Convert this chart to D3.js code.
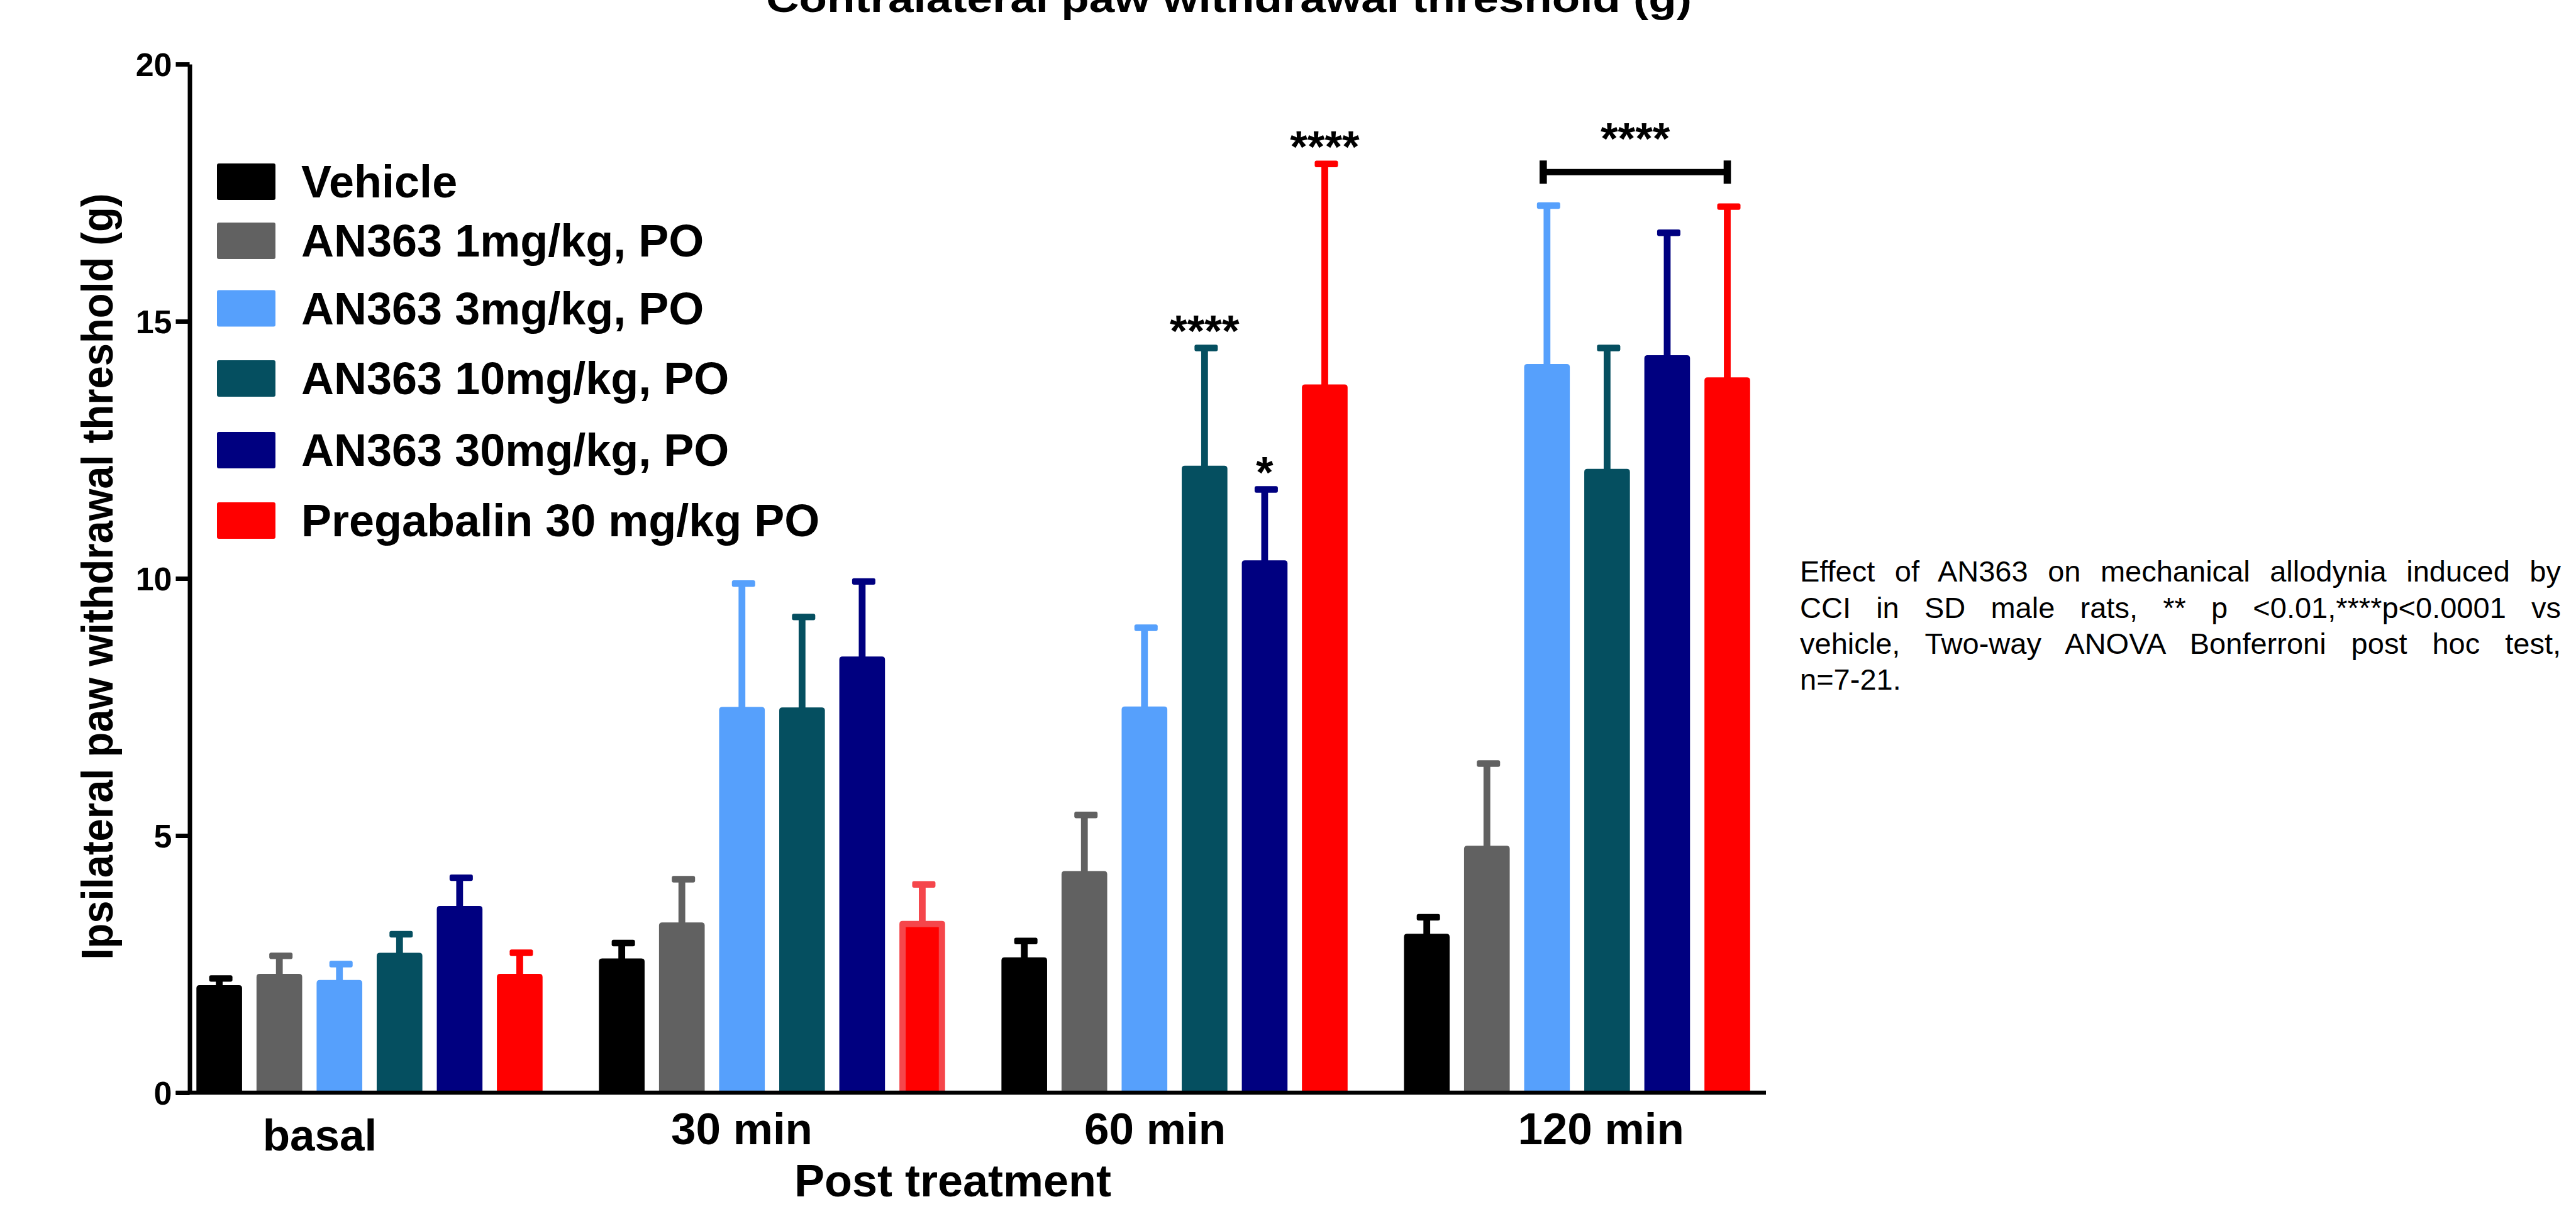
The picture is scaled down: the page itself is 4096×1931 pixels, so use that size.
<!DOCTYPE html>
<html>
<head>
<meta charset="utf-8">
<script src="https://cdn.jsdelivr.net/npm/d3@7"></script>
<style>
  body { margin: 0; background: #fff; }
  svg { display: block; }
  text { font-family: 'Liberation Sans', Arial, sans-serif; fill: #000; }
</style>
</head>
<body>
<script>
// data
const groups = ['basal', '30 min', '60 min', '120 min'];
const series = ['Vehicle', 'AN363 1mg/kg, PO', 'AN363 3mg/kg, PO', 'AN363 10mg/kg, PO', 'AN363 30mg/kg, PO', 'Pregabalin 30 mg/kg PO'];
const colors = ['#000000', '#616161', '#56a0fc', '#054f60', '#000080', '#ff0000'];

// mean per series, one value per group
const vehicleMean = [2.09, 2.61, 2.63, 3.09];
const an1Mean = [2.31, 3.31, 4.31, 4.80];
const an3Mean = [2.19, 7.50, 7.51, 14.17];
const an10Mean = [2.72, 7.49, 12.19, 12.13];
const an30Mean = [3.63, 8.48, 10.35, 14.34];
const pregMean = [2.31, 3.34, 13.77, 13.91];

// SEM (upper error bar)
const vehicleSem = [0.13, 0.30, 0.32, 0.32];
const an1Sem = [0.35, 0.84, 1.09, 1.60];
const an3Sem = [0.31, 2.40, 1.53, 3.08];
const an10Sem = [0.36, 1.76, 2.29, 2.35];
const an30Sem = [0.55, 1.46, 1.38, 2.38];
const pregSem = [0.41, 0.71, 4.29, 3.32];

const yTicks = [0, 5, 10, 15, 20];

// significance marks over single bars, and the bracket at 120 min
const sigMarks = [
  { group: '60 min', series: 3, label: '****' },
  { group: '60 min', series: 4, label: '*' },
  { group: '60 min', series: 5, label: '****' }
];
const sigBracket = { group: '120 min', from: 2, to: 5, value: 17.9, label: '****' };

const noteLines = [
  'Effect of AN363 on mechanical allodynia induced by',
  'CCI in SD male rats, ** p <0.01,****p<0.0001 vs',
  'vehicle, Two-way ANOVA Bonferroni post hoc test,',
  'n=7-21.'
];

const means = [vehicleMean, an1Mean, an3Mean, an10Mean, an30Mean, pregMean];
const sems = [vehicleSem, an1Sem, an3Sem, an10Sem, an30Sem, pregSem];

// layout
const width = 4096;
const height = 1931;
const axisX = 301.5;
const barLeft = 312.3;
const barRight = 2782.8;
const axisRight = 2808;
const tickLen = 22;
// x labels are not centred on their groups in the original
const labelShift = [-79, -48, -31, 38];
const labelBase = [92, 82, 82, 82];
const legendTop = [260, 354, 461.5, 573, 687, 799];

const svg = d3.select('body').append('svg').attr('width', width).attr('height', height);
svg.append('rect').attr('width', width).attr('height', height).attr('fill', '#fff');

const x0 = d3.scaleBand().domain(groups).range([barLeft, barRight]).paddingInner(0.14).paddingOuter(0);
const x1 = d3.scaleBand().domain(d3.range(series.length)).range([0, x0.bandwidth()]).paddingInner(0.24).paddingOuter(0);
const y = d3.scaleLinear().domain([0, 20]).range([1738, 102]);

const rows = [];
groups.forEach(function(g, gi) {
  series.forEach(function(s, si) {
    rows.push({ group: g, si: si, mean: means[si][gi], sem: sems[si][gi] });
  });
});

function cx(g, si) { return x0(g) + x1(si) + x1.bandwidth() / 2; }

function topRounded(x, yTop, w, h, r) {
  return 'M' + x + ',' + (yTop + h) + 'V' + (yTop + r) +
    'Q' + x + ',' + yTop + ' ' + (x + r) + ',' + yTop +
    'H' + (x + w - r) + 'Q' + (x + w) + ',' + yTop + ' ' + (x + w) + ',' + (yTop + r) +
    'V' + (yTop + h) + 'Z';
}

// the pregabalin bar at 30 min has a lighter outline in the original
function isOutlined(d) { return d.si === 5 && d.group === '30 min'; }
const outlineColor = '#f5464b';

// error bars (drawn first so bars cover the stem base)
const err = svg.append('g');
err.selectAll('rect.stem').data(rows).enter().append('rect')
  .attr('class', 'stem')
  .attr('x', function(d) { return cx(d.group, d.si) - 5.4; })
  .attr('y', function(d) { return y(d.mean + d.sem); })
  .attr('width', 10.8)
  .attr('height', function(d) { return y(d.mean) - y(d.mean + d.sem) + 2; })
  .attr('fill', function(d) { return isOutlined(d) ? outlineColor : colors[d.si]; });
err.selectAll('rect.cap').data(rows).enter().append('rect')
  .attr('class', 'cap')
  .attr('x', function(d) { return cx(d.group, d.si) - 16; })
  .attr('y', function(d) { return y(d.mean + d.sem) - 5.2; })
  .attr('width', 37)
  .attr('height', 10.4)
  .attr('rx', 3)
  .attr('fill', function(d) { return isOutlined(d) ? outlineColor : colors[d.si]; });

// bars
const bars = svg.append('g');
bars.selectAll('path').data(rows).enter().append('path')
  .attr('d', function(d) {
    const bx = x0(d.group) + x1(d.si);
    return topRounded(bx, y(d.mean), x1.bandwidth(), y(0) - y(d.mean), 5);
  })
  .attr('fill', function(d) { return isOutlined(d) ? outlineColor : colors[d.si]; });
bars.selectAll('rect.inner').data(rows.filter(isOutlined)).enter().append('rect')
  .attr('class', 'inner')
  .attr('x', function(d) { return x0(d.group) + x1(d.si) + 10; })
  .attr('y', function(d) { return y(d.mean) + 10; })
  .attr('width', x1.bandwidth() - 20)
  .attr('height', function(d) { return y(0) - y(d.mean) - 10; })
  .attr('fill', colors[5]);

// y axis
const yAxis = svg.append('g')
  .attr('transform', 'translate(' + axisX + ',0)')
  .call(d3.axisLeft(y).tickValues(yTicks).tickSizeOuter(0).tickSizeInner(tickLen).tickPadding(6));
yAxis.select('.domain').attr('stroke', '#000').attr('stroke-width', 7);
yAxis.selectAll('.tick line').attr('stroke', '#000').attr('stroke-width', 7);
yAxis.selectAll('.tick text')
  .attr('font-size', 52).attr('font-weight', 'bold')
  .attr('dy', null).attr('y', 18.5);

// x axis
const xAxis = svg.append('g')
  .attr('transform', 'translate(0,' + y(0) + ')')
  .call(d3.axisBottom(x0).tickSize(0));
xAxis.select('.domain')
  .attr('d', 'M' + (axisX - tickLen) + ',0H' + axisRight)
  .attr('stroke', '#000').attr('stroke-width', 6.5);
xAxis.selectAll('.tick text')
  .attr('font-size', 71).attr('font-weight', 'bold')
  .attr('dy', null)
  .attr('x', function(d, i) { return labelShift[i]; })
  .attr('y', function(d, i) { return labelBase[i]; });

// axis titles and title
svg.append('text')
  .attr('x', 1515).attr('y', 1903)
  .attr('text-anchor', 'middle').attr('font-size', 72).attr('font-weight', 'bold')
  .text('Post treatment');

svg.append('text')
  .attr('transform', 'translate(179,917) rotate(-90)')
  .attr('text-anchor', 'middle').attr('font-size', 71).attr('font-weight', 'bold')
  .attr('textLength', 1219).attr('lengthAdjust', 'spacingAndGlyphs')
  .text('Ipsilateral paw withdrawal threshold (g)');

svg.append('text')
  .attr('x', 1954).attr('y', 19)
  .attr('text-anchor', 'middle').attr('font-size', 62).attr('font-weight', 'bold')
  .attr('textLength', 1472).attr('lengthAdjust', 'spacingAndGlyphs')
  .text('Contralateral paw withdrawal threshold (g)');

// legend
const legend = svg.append('g');
legend.selectAll('rect').data(series).enter().append('rect')
  .attr('x', 345).attr('y', function(d, i) { return legendTop[i]; })
  .attr('width', 93).attr('height', 58).attr('rx', 3)
  .attr('fill', function(d, i) { return colors[i]; });
legend.selectAll('text').data(series).enter().append('text')
  .attr('x', 479).attr('y', function(d, i) { return legendTop[i] + 29 + 25; })
  .attr('font-size', 72).attr('font-weight', 'bold')
  .text(function(d) { return d; });

// significance stars
svg.append('g').selectAll('text').data(sigMarks).enter().append('text')
  .attr('x', function(d) { return cx(d.group, d.series); })
  .attr('y', function(d) {
    const gi = groups.indexOf(d.group);
    return y(means[d.series][gi] + sems[d.series][gi]) - 2.4;
  })
  .attr('text-anchor', 'middle').attr('font-size', 71).attr('font-weight', 'bold')
  .text(function(d) { return d.label; });

const bx1 = cx(sigBracket.group, sigBracket.from) - 6;
const bx2 = cx(sigBracket.group, sigBracket.to);
const by = y(sigBracket.value);
const br = svg.append('g');
br.append('line').attr('x1', bx1).attr('x2', bx2).attr('y1', by).attr('y2', by)
  .attr('stroke', '#000').attr('stroke-width', 10);
[bx1, bx2].forEach(function(bx) {
  br.append('rect').attr('x', bx - 5.8).attr('y', by - 18.5).attr('width', 11.6).attr('height', 37).attr('fill', '#000');
});
br.append('text')
  .attr('x', (bx1 + bx2) / 2).attr('y', by - 29)
  .attr('text-anchor', 'middle').attr('font-size', 71).attr('font-weight', 'bold')
  .text(sigBracket.label);

// justified note on the right
const noteLeft = 2862;
const noteRight = 4072;
noteLines.forEach(function(line, i) {
  const t = svg.append('text')
    .attr('x', noteLeft).attr('y', 925.3 + i * 57.2)
    .attr('font-size', 47)
    .text(line);
  if (i < noteLines.length - 1) {
    const natural = t.node().getComputedTextLength();
    const gaps = line.split(' ').length - 1;
    t.attr('word-spacing', (noteRight - noteLeft - natural) / gaps);
  }
});
</script>
</body>
</html>
